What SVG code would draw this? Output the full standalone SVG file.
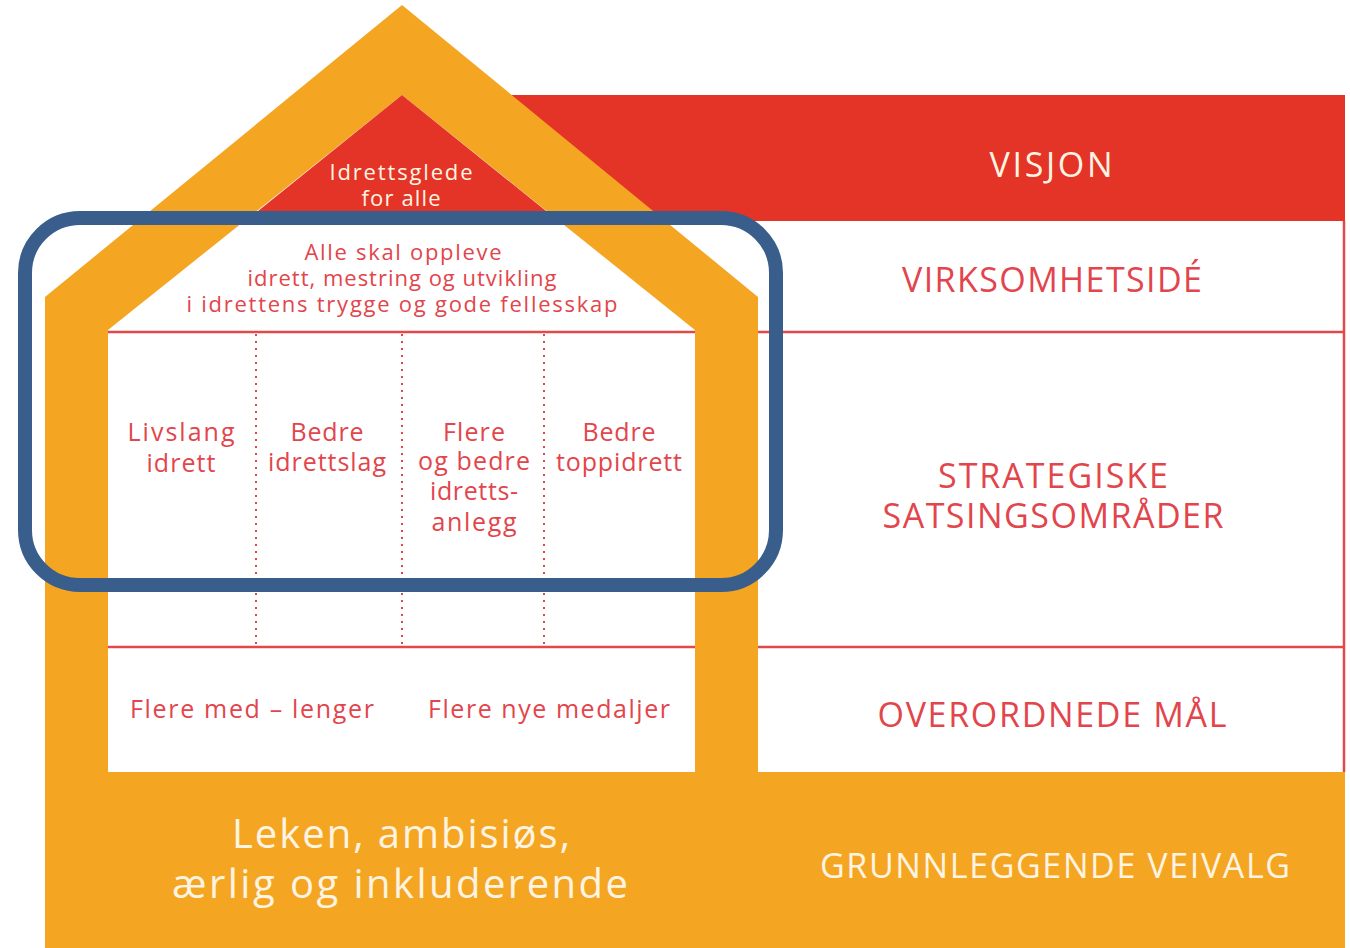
<svg xmlns="http://www.w3.org/2000/svg" width="1350" height="948" viewBox="0 0 1350 948">
<style>
.orange{fill:#F4A623}
.red{fill:#E33427}
.rt{fill:#E2454C;font-family:"Open Sans","Liberation Sans",sans-serif;text-anchor:middle}
.wt{fill:#FFF4E2;font-family:"Open Sans","Liberation Sans",sans-serif;text-anchor:middle}
.line{stroke:#E3474A;stroke-width:2.5;fill:none}
.dot{stroke:#E3474A;stroke-width:2;stroke-dasharray:2 5;fill:none}
</style>
<rect width="1350" height="948" fill="#FFFFFF"/>
<g id="visjon-band">
  <rect x="402" y="95" width="943" height="126" class="red"/>
  <text x="1051" y="177" class="wt" font-size="34" textLength="123" lengthAdjust="spacing">VISJON</text>
</g>
<g id="house">
  <polygon class="orange" points="402,5 758,297 758,772 1345,772 1345,948 45,948 45,297"/>
  <polygon fill="#FFFFFF" points="402,95 695,330 695,772 108,772 108,330"/>
  <polygon class="red" points="402,95 551,215 253,215"/>
</g>
<g id="right-column">
  <rect x="758" y="221" width="587" height="551" fill="#FFFFFF"/>
  <line class="line" x1="1344" y1="221" x2="1344" y2="772"/>
</g>
<g id="dividers">
  <line class="line" x1="108" y1="332" x2="695" y2="332"/>
  <line class="line" x1="758" y1="332" x2="1345" y2="332"/>
  <line class="line" x1="108" y1="647" x2="695" y2="647"/>
  <line class="line" x1="758" y1="647" x2="1345" y2="647"/>
  <line class="dot" x1="256" y1="334" x2="256" y2="645"/>
  <line class="dot" x1="402" y1="334" x2="402" y2="645"/>
  <line class="dot" x1="544" y1="334" x2="544" y2="645"/>
</g>
<g id="idrettsglede">
  <text x="401" y="180" class="wt" font-size="22" textLength="143" lengthAdjust="spacing">Idrettsglede</text>
  <text x="401" y="206" class="wt" font-size="22" textLength="79" lengthAdjust="spacing">for alle</text>
</g>
<g id="virksomhetside-text">
  <text x="403" y="260" class="rt" font-size="22" textLength="197" lengthAdjust="spacing">Alle skal oppleve</text>
  <text x="402" y="286" class="rt" font-size="22" textLength="309" lengthAdjust="spacing">idrett, mestring og utvikling</text>
  <text x="402" y="312" class="rt" font-size="22" textLength="431" lengthAdjust="spacing">i idrettens trygge og gode fellesskap</text>
</g>
<g id="col-livslang">
  <text x="181" y="441" class="rt" font-size="25" textLength="107" lengthAdjust="spacing">Livslang</text>
  <text x="181" y="472" class="rt" font-size="25" textLength="69" lengthAdjust="spacing">idrett</text>
</g>
<g id="col-idrettslag">
  <text x="327" y="441" class="rt" font-size="25" textLength="73" lengthAdjust="spacing">Bedre</text>
  <text x="327" y="471" class="rt" font-size="25" textLength="118" lengthAdjust="spacing">idrettslag</text>
</g>
<g id="col-anlegg">
  <text x="474" y="441" class="rt" font-size="25" textLength="62" lengthAdjust="spacing">Flere</text>
  <text x="474" y="470" class="rt" font-size="25" textLength="112" lengthAdjust="spacing">og bedre</text>
  <text x="474" y="500" class="rt" font-size="25" textLength="88" lengthAdjust="spacing">idretts-</text>
  <text x="474" y="531" class="rt" font-size="25" textLength="85" lengthAdjust="spacing">anlegg</text>
</g>
<g id="col-toppidrett">
  <text x="619" y="441" class="rt" font-size="25" textLength="73" lengthAdjust="spacing">Bedre</text>
  <text x="619" y="471" class="rt" font-size="25" textLength="126" lengthAdjust="spacing">toppidrett</text>
</g>
<g id="goals">
  <text x="252" y="718" class="rt" font-size="25" textLength="244" lengthAdjust="spacing">Flere med – lenger</text>
  <text x="549" y="718" class="rt" font-size="25" textLength="242" lengthAdjust="spacing">Flere nye medaljer</text>
</g>
<g id="values">
  <text x="401" y="848" class="wt" font-size="40" textLength="338" lengthAdjust="spacing">Leken, ambisiøs,</text>
  <text x="400" y="898" class="wt" font-size="40" textLength="456" lengthAdjust="spacing">ærlig og inkluderende</text>
</g>
<g id="labels">
  <text x="1052" y="292" class="rt" font-size="34" textLength="300" lengthAdjust="spacing">VIRKSOMHETSIDÉ</text>
  <text x="1053" y="488" class="rt" font-size="34" textLength="230" lengthAdjust="spacing">STRATEGISKE</text>
  <text x="1053" y="528" class="rt" font-size="34" textLength="341" lengthAdjust="spacing">SATSINGSOMRÅDER</text>
  <text x="1052" y="727" class="rt" font-size="34" textLength="349" lengthAdjust="spacing">OVERORDNEDE MÅL</text>
  <text x="1055" y="878" class="wt" font-size="34" textLength="470" lengthAdjust="spacing">GRUNNLEGGENDE VEIVALG</text>
</g>
<g id="highlight">
  <rect x="25" y="218" width="751" height="367" rx="55" ry="55" fill="none" stroke="#3A5E8B" stroke-width="14"/>
</g>
</svg>
